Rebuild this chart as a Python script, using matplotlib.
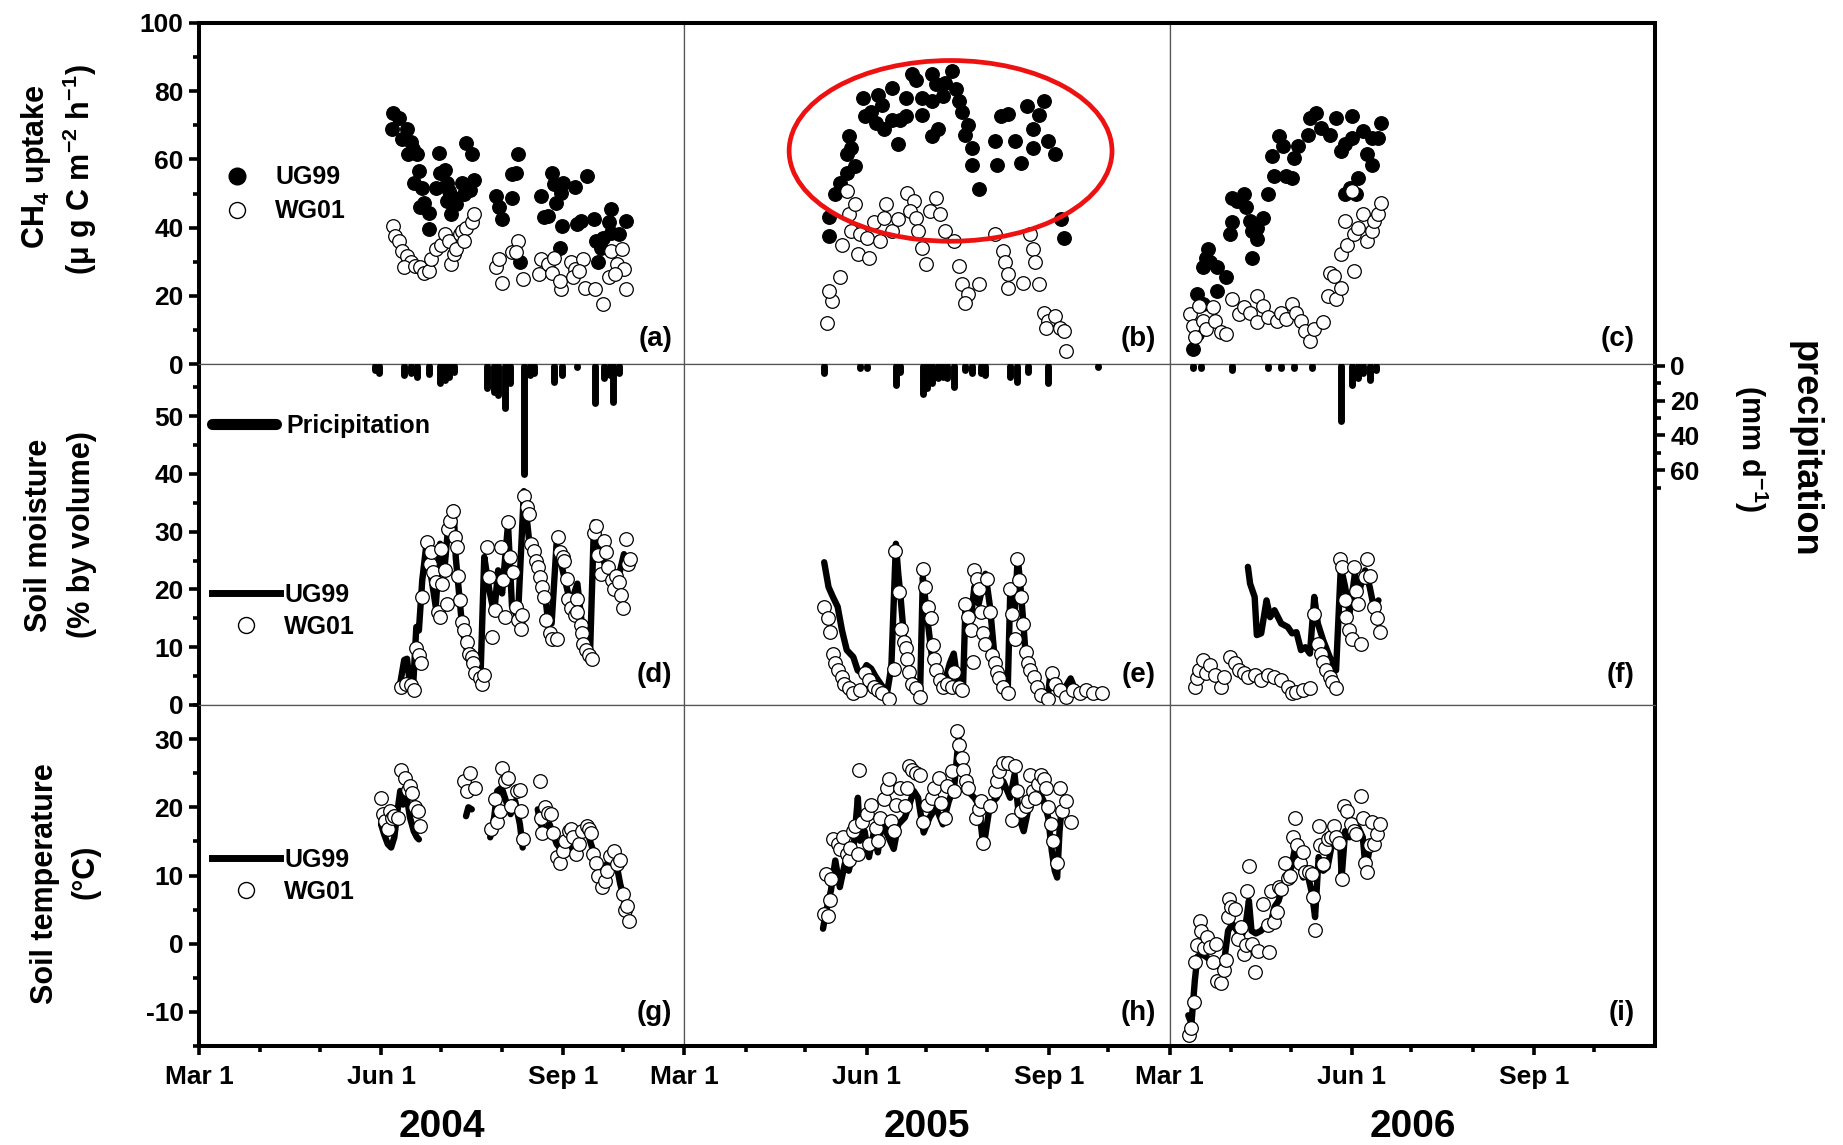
import numpy as np
import matplotlib.pyplot as plt
from matplotlib.lines import Line2D
from matplotlib.patches import Ellipse

plt.rcParams['font.family'] = ['Liberation Sans', 'DejaVu Sans']
plt.rcParams['font.weight'] = 'bold'
plt.rcParams['mathtext.fontset'] = 'custom'
plt.rcParams['mathtext.rm'] = 'Liberation Sans:bold'
plt.rcParams['mathtext.it'] = 'Liberation Sans:bold'
plt.rcParams['mathtext.bf'] = 'Liberation Sans:bold'
plt.rcParams['axes.unicode_minus'] = False

nan = float('nan')

# x values are days since Mar 1 of each year
years = ['2004', '2005', '2006']
tick_days = [0, 92, 184]
tick_labels = ['Mar 1', 'Jun 1', 'Sep 1']
minor_days = [31, 61, 122, 153, 214]
panel_tags = [['(a)', '(b)', '(c)'], ['(d)', '(e)', '(f)'], ['(g)', '(h)', '(i)']]

# ---- CH4 uptake (ug C m-2 h-1) ----
ch4_ug99_2004 = [(98, 73.7), (101, 72), (97.5, 68.8), (105, 68.8), (102.5, 66), (107, 65), (108, 63),
                 (105.5, 61.5), (110, 61.5), (121, 62), (111, 56.6), (108.6, 53), (112.6, 51.7), (121.7, 56),
                 (124, 57), (125, 53), (119.5, 51.7), (126, 50.7), (113.8, 47.3), (111.5, 45.9), (116, 44.4),
                 (116, 39.5), (125, 47.8), (128.5, 48.8), (129.6, 46.8), (127, 43.9), (135, 64.9), (138, 61.5),
                 (133, 53), (138.6, 54), (137, 51), (134, 49.8), (150, 49.3), (151.6, 45.9), (153, 42.4),
                 (158, 48.8), (158, 55.6), (161, 61.5), (160, 56), (162, 29.8), (172.6, 49.3), (174, 43),
                 (178, 56), (179, 52.7), (176, 43.4), (182.8, 50.2), (184, 53), (189.6, 52), (180, 47.3),
                 (183, 40.5), (182, 34), (196, 55), (191, 41), (193, 42), (199.4, 42.4), (200.6, 36),
                 (203, 34), (201.6, 29.8), (208, 45.4), (207, 41.5), (212, 38), (215.6, 42), (208, 38.5),
                 (204, 37)]
ch4_wg01_2004 = [(98, 40.5), (99, 37.6), (101, 36), (102.5, 33), (105, 31.7), (107, 30), (103.6, 28.3),
                 (109, 28.8), (111.5, 28.3), (113.8, 26.8), (116, 27.3), (117, 30.7), (119.5, 33.7), (122, 35),
                 (124, 38), (126, 36), (127, 29.3), (128.5, 32.2), (129.6, 33.7), (132, 38), (133, 39),
                 (135, 40), (137.6, 41.5), (138.6, 43.9), (134, 36), (150, 28.3), (151.6, 30.7), (153, 23.9),
                 (158, 32.7), (161, 36), (160, 32.7), (163.6, 24.9), (171.5, 26.3), (172.6, 30.7), (176, 29.3),
                 (179, 31.2), (178, 26.8), (182.8, 22), (182, 24.4), (187.8, 29.8), (189.6, 27.8), (189, 25.4),
                 (194, 30.7), (192, 27.3), (195, 22.4), (200, 22), (204, 17.6), (207, 25.4), (208, 33.2),
                 (211, 29.3), (213.5, 33.7), (214.6, 27.8), (215.6, 22), (210, 26.3)]
ch4_ug99_2005 = [(73, 37.6), (73, 43), (76, 49.8), (78.5, 53), (82, 56), (86.4, 58), (82, 61.5), (83, 66.8),
                 (84, 63.4), (90, 78), (91, 72.7), (94, 74), (96.6, 70.7), (97.7, 79), (100, 76), (101, 69),
                 (105, 81), (107.9, 64.4), (105, 71.7), (109, 71.7), (112, 72.7), (112, 78), (114.7, 85),
                 (117, 83.4), (120, 78), (120, 73), (125, 85), (127, 82), (125, 77), (125, 67), (128, 69),
                 (130.5, 78.5), (131.7, 82.4), (135, 85.9), (137, 80.5), (138.5, 77), (140, 74), (143, 70),
                 (141.9, 67.3), (145, 63.4), (145, 58.5), (148.6, 51.2), (156.6, 65.4), (157.9, 58.5),
                 (160, 72.7), (163.3, 73.2), (166.7, 65.4), (170, 59), (173, 75.6), (175.8, 68.8),
                 (175.8, 63.4), (181.4, 77), (179, 73), (183.7, 65.4), (187, 61.5), (190, 42.4), (191.6, 37)]
ch4_wg01_2005 = [(72, 11.9), (74.7, 18.5), (72.9, 21.5), (78.5, 25.4), (79.6, 35), (82, 50.7), (83, 43.9),
                 (86.4, 46.8), (84, 39), (88.7, 38), (87.6, 32.2), (93, 31.2), (92, 37), (95.5, 41.5), (99, 36),
                 (101, 42.9), (102, 46.8), (105, 39), (108, 42.4), (112.5, 50.2), (116, 47.8), (113.8, 44.9),
                 (117, 42.9), (118, 39), (120, 34), (122, 29.3), (124, 44.9), (127, 48.8), (129, 43.9),
                 (131.7, 39), (136, 36), (138.5, 28.8), (140, 23.4), (143, 20.5), (141.9, 18), (148.6, 23.4),
                 (156.6, 38), (161, 33.2), (162, 30), (163.3, 26.3), (163.3, 22.4), (171, 23.9), (174.6, 38),
                 (175.8, 33.7), (177, 29.8), (179, 23.4), (181.4, 15), (183.7, 12.7), (187, 14.1),
                 (189.4, 10.7), (191.6, 9.8), (192.8, 3.9), (182.6, 10.7)]
ch4_ug99_2006 = [(11.6, 4.4), (14, 8.8), (14, 20.5), (17, 17.6), (23.9, 21.5), (17, 28.3), (19.4, 33.7),
                 (18.3, 31.2), (20.5, 29.8), (23.9, 28.3), (28.3, 25.4), (30.6, 38), (31.7, 41.5), (31.7, 48.8),
                 (33.9, 47.8), (37.3, 49.8), (38.4, 45.9), (40.6, 42), (41.7, 39), (44, 36.6), (44, 40),
                 (41.7, 31.2), (47.3, 42.9), (49.6, 49.8), (52.9, 55), (51.8, 61), (55, 66.8), (57.4, 63.9),
                 (58.5, 55), (61.8, 54.6), (63, 60.5), (65, 63.9), (69.6, 67.3), (70.7, 72.2), (74, 73.7),
                 (76.3, 69.3), (81, 67.3), (84, 72.2), (86.4, 62.4), (88.6, 64.4), (91.9, 72.7), (91.9, 66.3),
                 (95, 54.6), (94, 49.8), (88.6, 49.8), (91, 51.7), (97.5, 68.3), (99.8, 61.5), (102, 66.3),
                 (105, 66.3), (106.5, 70.7), (102, 58.5)]
ch4_wg01_2006 = [(10.5, 14.6), (11.6, 11.2), (12.7, 7.8), (15, 17), (17, 12.7), (18.3, 10.2), (21.7, 16.6),
                 (22.8, 12.7), (26, 9.3), (28.3, 8.8), (31.7, 19), (35, 14.6), (37.3, 16.6), (40.6, 15.1),
                 (44, 20), (44, 12.2), (47.3, 17), (49.6, 13.7), (54, 12.7), (56.3, 15.1), (58.5, 13.2),
                 (61.8, 17.6), (64, 15.1), (66.3, 12.7), (68.5, 9.8), (70.7, 6.8), (73, 10.2), (77.5, 12.2),
                 (79.7, 20), (84, 19), (80.8, 26.8), (83, 25.9), (86.4, 22.4), (86.4, 32.2), (89.7, 35),
                 (93, 27.3), (93, 38), (88.6, 42), (95, 40), (97.5, 43.9), (99.8, 36), (102, 39), (103, 42),
                 (105, 43.9), (106.5, 47.3), (92, 50.7)]

# ---- precipitation (mm d-1) ----
rain_2004 = [(89, 2.5), (90.7, 4.4), (103.6, 5.4), (107, 4.4), (110, 6.3), (116, 4.8), (121.7, 10), (124, 8.2),
             (126, 6.3), (128.5, 3.4), (145.5, 13), (149, 15), (151, 16.9), (154.5, 24.5), (157, 10), (164, 62),
             (167, 5.4), (169, 4.4), (179.4, 9.2), (183, 5.4), (190.7, 0.6), (199.8, 21.6), (204.3, 7.3),
             (207.7, 5.4), (209, 20.7), (212, 4.4)]
rain_2005 = [(70.6, 4.4), (88.7, 1.5), (92, 1.5), (106.8, 11), (109, 3.4), (120.4, 16), (122.6, 13), (125, 10),
             (128.3, 7.3), (130.5, 6.3), (132.8, 7.3), (136, 12), (141.8, 2.5), (145, 4.4), (149.8, 4.4),
             (152, 5.4), (164.5, 6.3), (168, 9.2), (173.5, 3.4), (183.7, 10), (208.6, 0.6)]
rain_2006 = [(11.6, 1.5), (16, 1.5), (31.7, 2.5), (49.5, 1.5), (56.3, 1.5), (63, 1.5), (72, 1.5), (86.4, 32),
             (92, 11), (95.3, 7.3), (97.5, 4.4), (101, 8.2), (104, 2.5)]

# ---- soil moisture (% by volume) ----
sm_ug99_2004 = [(101.4, 3.4), (103.6, 7.8), (105, 8), (106.6, 3.2), (108, 2.6), (109.7, 13.5), (111, 12.9),
                (112.7, 21.6), (115, 28.4), (117, 22.7), (119.5, 17), (121.7, 27.9), (124, 23.9), (126, 31.6),
                (128.5, 34.2), (129.6, 25.6), (133, 12.9), (136.4, 7.8), (139.8, 5.5), (142, 3.7), (144, 25.6),
                (146.6, 19.8), (149, 15.8), (151, 23.3), (153, 19.3), (156, 31.3), (158, 17), (161, 15.2),
                (164, 37), (167, 27.3), (170, 25.6), (173.8, 21.6), (176, 15.2), (178, 14.1), (180.5, 27.9),
                (184, 22.7), (187.6, 17.5), (191, 21), (194, 11.8), (197.5, 10), (199.4, 31.6), (203, 26.1),
                (206.6, 22.7), (211, 21), (214.5, 26.1), (218, 23.9)]
sm_wg01_2004 = [(102, 3.2), (104.5, 3.7), (107, 3.4), (108.6, 2.6), (109.7, 9.8), (111, 8.6), (112, 7.2),
                (112.7, 18.7), (115, 28.2), (116.5, 24.4), (117, 26.4), (118, 23), (119.5, 21.3), (120.6, 16.1),
                (121.7, 15.2), (122.4, 27), (124, 23.3), (122.9, 21), (125, 17.5), (125.6, 30.5), (126.9, 31.9),
                (128, 33.6), (129, 29), (130, 27.3), (130.8, 22.4), (132, 18.1), (133, 14.4), (134, 12.9),
                (135.3, 10.9), (136.4, 8.9), (137.6, 8.3), (138.2, 7.2), (139.4, 5.5), (142, 4.6), (143, 3.7),
                (144, 5.2), (145.5, 27.3), (146.6, 22.1), (148, 11.8), (149.5, 16.4), (152.3, 27.3),
                (153.5, 21.6), (154.5, 15.2), (156, 31.6), (157, 25.6), (158.6, 23), (160, 17), (161, 14.7),
                (162.4, 13.2), (163, 15.5), (164, 36.2), (165.4, 34.2), (166.5, 33), (167.6, 27.9), (169, 26.7),
                (170, 25), (171, 23.9), (172, 22.1), (173.3, 20.4), (174.4, 18.7), (175, 14.7), (177, 12.4),
                (178.3, 11.5), (180.5, 11.5), (181, 29), (182, 26.4), (183.6, 25.6), (184.4, 25), (185.7, 21.8),
                (186.2, 18.4), (188, 16.7), (189.6, 15.5), (190.7, 18.4), (191, 16.1), (192.6, 13.8),
                (193.4, 12.4), (194, 10.6), (195.2, 9.5), (197, 8.6), (198.6, 8), (199.4, 29.7), (200.5, 31),
                (201.6, 25.9), (202.7, 22.7), (204.3, 28.4), (205.4, 26.4), (206.6, 23.9), (208.4, 21.6),
                (209.3, 20.1), (210.6, 22.4), (212, 21.3), (213, 19), (213.8, 16.7), (215.6, 28.7),
                (216.7, 24.4), (217.8, 25.3)]
sm_ug99_2005 = [(70.6, 24.7), (72.8, 20.4), (75, 18.7), (77.4, 17), (79.6, 12.9), (82, 9.5), (85.3, 8.3),
                (87.5, 6), (89.8, 5.5), (92, 6.9), (94.3, 6.3), (96.6, 4.9), (100, 3.2), (102.3, 2), (104.5, 6.6),
                (106.8, 27.9), (108, 22.7), (109, 19.3), (111, 11.2), (113.6, 6), (117, 3.2), (119, 2),
                (120.4, 22.1), (122.6, 15.2), (125, 8.3), (128.3, 5.5), (131.7, 4.3), (134, 7.2), (136, 8.9),
                (138.5, 2.6), (140.7, 3.2), (141.9, 17), (144, 12.9), (146.4, 20.4), (148.6, 17.5), (152, 22.7),
                (154.3, 17), (156.6, 8.3), (158.8, 4.3), (163.3, 3.2), (164.5, 19.3), (166.7, 15.2),
                (168.3, 25.6), (170, 19.3), (172.4, 8.3), (175.8, 4.3), (179, 2.6), (183.7, 2), (184.8, 5.5),
                (187, 3.2), (190.5, 2), (195, 4.6), (197, 2.9), (201.8, 2), (206, 1.7), (209.7, 1.4)]
sm_wg01_2005 = [(70.6, 17), (72.4, 15), (73.3, 12.6), (75, 8.9), (76.2, 7.2), (77.4, 6), (79.6, 4.9),
                (80.8, 3.7), (83, 2.9), (85.3, 2), (88.7, 2.6), (91, 5.5), (93.2, 4.3), (95.5, 3.2), (97.7, 2.6),
                (100, 2), (103.4, 1.1), (105.7, 6.3), (106.3, 26.7), (108.6, 19.5), (109.5, 13.2), (110.9, 10.9),
                (111.8, 9.8), (112.5, 8), (113.6, 5.7), (114.7, 3.7), (117, 2.9), (119, 1.4), (120.4, 23.6),
                (121.5, 20.4), (123, 17), (124.4, 15), (125.3, 10.3), (126, 8), (127, 6), (128.9, 4.3),
                (130.5, 3.2), (132.8, 3.7), (135, 3.2), (136, 5.7), (138.5, 3.2), (140.3, 2.6), (141.9, 17.5),
                (143.4, 15.2), (144.8, 12.9), (145.7, 7.5), (146.4, 23.3), (147.5, 21.8), (148.6, 20.1),
                (149.8, 16.1), (150.9, 12.4), (152, 10.6), (153, 21.8), (154.3, 16.1), (155.4, 8.6),
                (156.6, 7.2), (157.7, 5.7), (158.8, 4.6), (161, 3.2), (163.3, 2), (164.5, 20.1), (165.6, 15.8),
                (166.7, 11.5), (167.8, 25.3), (168.9, 21.6), (170, 18.7), (171, 14.1), (172.4, 9.2),
                (173.5, 7.2), (174.6, 6), (176.5, 4.9), (178, 3.2), (180.3, 1.7), (183.7, 1.1), (185.5, 5.5),
                (187, 3.7), (189.4, 2.6), (192.8, 1.4), (196.2, 2.6), (199.5, 2), (203, 2.6), (206.3, 2),
                (210.9, 2)]
sm_ug99_2006 = [(39.5, 23.9), (40.6, 21), (42.9, 18.7), (44, 12.1), (46.2, 12.4), (48.9, 18.1), (50.7, 15.2),
                (52.9, 16.4), (56.3, 14.1), (59.6, 13.5), (61.8, 12.4), (64, 12.6), (66.3, 9.5), (68.5, 10),
                (70.8, 8.9), (73, 18.7), (74.8, 14.1), (77.5, 11.2), (80.8, 8.3), (84, 6), (86.4, 23.9),
                (88.6, 20.4), (90.8, 15.8), (93.5, 22.7), (95.3, 19.3), (98.7, 23.3), (101, 20.4), (103, 17),
                (105.4, 18.1)]
sm_wg01_2006 = [(12.7, 3.2), (13.8, 4.6), (15, 6), (17, 7.8), (18.3, 5.5), (20.5, 6.9), (22.8, 5.2), (26, 3.2),
                (27.2, 4.9), (30.6, 8.3), (32.8, 7.2), (35, 6), (37.3, 5.5), (39.5, 4.9), (42.9, 5.2),
                (46.2, 4.3), (49.5, 5.2), (52.9, 4.9), (56.3, 4.3), (59.6, 3.2), (61.8, 2), (64, 2.3),
                (67.4, 2.6), (70.8, 2.9), (73, 15.8), (74.8, 10.6), (76.3, 8.9), (77.5, 7.5), (79, 6),
                (80.8, 4.9), (81.9, 4), (84, 2.9), (85.9, 25.3), (86.8, 23.9), (88.6, 18.1), (89, 15.2),
                (90.4, 12.9), (92, 11.5), (93, 23.9), (94.2, 19.8), (95.3, 17.5), (96.7, 10.6), (98.7, 22.1),
                (99.8, 25.3), (100.9, 22.4), (103, 17), (104.7, 15), (106, 12.6)]

# ---- soil temperature (deg C) ----
t_ug99_2004 = [(91.9, 17.5), (93.5, 16), (95.3, 14.6), (97, 14.1), (98.6, 15.6), (100.2, 19.5), (101.6, 22.4),
               (103, 20.4), (104.7, 21.9), (106.5, 18.5), (108.4, 16.5), (110, 15.6), (111, 15.3), (120, nan),
               (134.8, 18.7), (136, 20), (137.7, 19.7), (142, nan), (147, 15.6), (149, 18.5), (150.6, 22.4),
               (152.8, 22.9), (155, 20.9), (157.3, 19), (159.6, 20.9), (162, 17.5), (163.4, 14.1), (167, nan),
               (171, 19.7), (172.5, 17.5), (174.7, 16.5), (177, 17.5), (178.8, 16), (180.6, 14.6),
               (183.3, 13.6), (186.7, 14.6), (189, 12.7), (191, 13.6), (193.5, 16.5), (196.4, 16), (199, 13.6),
               (201.4, 10.2), (203.6, 9.7), (205.9, 11.7), (208, 10.7), (210.4, 12.2), (212.6, 8.8),
               (214.4, 6.8), (216, 4.4)]
t_wg01_2004 = [(91.9, 21.4), (93, 19), (94.1, 18), (95.3, 16.8), (96.4, 19.5), (97.5, 18.5), (98.6, 18.7),
               (100.5, 18.5), (102, 25.5), (103.8, 24.3), (105.4, 22.6), (106.5, 23.1), (107.7, 22.1),
               (109.2, 20), (110.6, 19.5), (111.5, 17.3), (133.6, 23.8), (135.4, 22.4), (137, 25.1),
               (139.3, 22.9), (147.2, 16.8), (149.4, 21.2), (150.6, 17.8), (151.7, 19.5), (152.8, 25.8),
               (154.4, 23.8), (156.2, 24.3), (157.3, 20.2), (160.7, 22.4), (161.9, 22.6), (162.5, 19.5),
               (163.4, 15.3), (172, 23.8), (172.7, 18.5), (173.1, 16.3), (174.7, 20), (176, 19.2), (177.7, 19),
               (178.8, 16.3), (180.6, 12.7), (182.2, 11.9), (183.7, 13.6), (185, 15.1), (186.7, 16.5),
               (187.8, 16.8), (189, 15.6), (190.5, 13.1), (191.9, 14.6), (193.5, 16.5), (195.7, 17.3),
               (196.8, 16.8), (198, 16.3), (199, 13.1), (200.2, 11.9), (201.4, 10), (203.2, 8.3), (204.7, 9.2),
               (205.9, 10.7), (207.7, 12.9), (209.3, 13.6), (210.9, 11.7), (212.6, 12.2), (213.8, 7.3),
               (214.9, 4.9), (216, 5.6), (217.2, 3.4)]
t_ug99_2005 = [(70, 2.2), (71.7, 4.9), (74, 7.8), (76.2, 12.2), (78.5, 8.3), (81, 11.7), (83, 10.7),
               (85.3, 13.6), (87.6, 21.4), (88.7, 15.1), (91, 16.5), (93.2, 12.7), (95.5, 16.1), (97.7, 13.4),
               (100, 18.5), (102.3, 16.1), (105.7, 13.9), (108, 17.5), (111.3, 18.5), (113.6, 20.4),
               (115.8, 22.4), (118, 21.4), (120.8, 16.3), (123.8, 18.5), (127, 20), (130.5, 17.5),
               (133.5, 20.9), (136.2, 22.9), (138.5, 30.2), (140.7, 25.8), (143, 22.4), (146.4, 21.4),
               (148.6, 20.4), (151, 14.1), (154.3, 20.4), (157.7, 21.4), (161, 23.8), (164.5, 21.4),
               (166.7, 24.8), (169, 18.5), (171.3, 16.5), (173.5, 19.5), (176.5, 21.4), (179, 22.4),
               (181.4, 20.9), (183.7, 18.5), (185.5, 13.6), (187, 10.7), (188.2, 9.7), (189.4, 16.5),
               (190.5, 20)]
t_wg01_2005 = [(70.6, 4.4), (72.4, 4.1), (73.3, 6.4), (71.7, 10.2), (74, 9.5), (75, 15.3), (77.4, 14.6),
               (78.5, 13.9), (80, 15.6), (81.9, 13.1), (83, 12.2), (83.7, 14.1), (85.3, 16.5), (86.4, 17.3),
               (87.6, 13.1), (88.2, 25.4), (89.8, 17.8), (92, 19), (93.2, 14.6), (94.3, 20.4), (96.6, 17),
               (97.7, 15.1), (98.9, 18.5), (101, 21.2), (102.3, 22.9), (103.4, 24.1), (104.5, 18), (105.7, 16.5),
               (106.8, 20.4), (109, 22.9), (111.3, 20.2), (112.5, 22.9), (113.6, 26), (114.7, 25.5), (117, 25.1),
               (119, 24.8), (120.4, 17.8), (122.6, 20.4), (125, 21.4), (126, 22.9), (128.5, 24.3), (129.6, 20.7),
               (131.7, 18.5), (132.8, 23.1), (135, 25.3), (136.2, 22.4), (137.5, 31.2), (138.9, 29.2),
               (140, 27.3), (140.7, 25.5), (142, 23.8), (143, 22.9), (147, 18.5), (148.6, 19.7), (149.8, 20.9),
               (151, 14.8), (154.3, 20.2), (156.6, 22.4), (157.7, 23.8), (158.8, 25.3), (161, 26.5),
               (163.3, 26.5), (165.6, 18.2), (166.7, 26), (167.8, 22.4), (170, 19.5), (172.4, 20.2),
               (173.5, 20.9), (174.6, 24.8), (175.8, 22.4), (176.9, 21.4), (178.7, 23.4), (180.3, 24.8),
               (181.4, 24.1), (182.6, 22.9), (183.7, 20), (185.3, 17.5), (186, 15.1), (188.2, 11.9),
               (189.4, 22.9), (190.5, 19.5), (192.8, 20.9), (195, 17.8)]
t_ug99_2006 = [(9.4, -10.5), (11, -11.7), (12.7, -5.4), (14, -1.9), (16, -1.5), (18.3, -1.9), (20.5, -2.4),
               (22.8, -2.9), (25, -3.4), (27.6, -2.4), (29.5, 1.9), (31.7, 2.9), (34, 1.9), (36.2, 1), (38.4, 2.9),
               (40, 6.3), (41.3, 1.9), (43.5, 1.5), (46.2, 1.9), (48.9, 2.9), (51, 2.9), (52.9, 5.4), (55, 6.3),
               (57.4, 8.8), (59, 9.7), (61.4, 11.2), (63, 13.6), (65, 12.2), (67.4, 9.7), (69.6, 10.2),
               (71.9, 7.3), (73.4, 3.9), (75.2, 12.7), (77.5, 10.7), (79.7, 11.2), (81.9, 14.6), (84, 14.6),
               (86, 15.6), (86.8, 9.7), (88.6, 16.5), (90.8, 15.6), (93, 17.5), (95.3, 17), (97.5, 15.6),
               (99, 10.7), (101, 14.1), (103, 15.1), (105.4, 15.6)]
t_wg01_2006 = [(10, -13.4), (11, -12.3), (12.3, -8.5), (12.7, -2.7), (14, -0.2), (15.4, 3.4), (16, 1.9),
               (17.2, -0.7), (19, 1), (20.5, -0.5), (21.7, -2.7), (23.4, 0), (23.9, -5.4), (25.7, -5.8),
               (27.2, -3.9), (28.3, -2.4), (29.5, 3.9), (30.1, 6.6), (31.2, 5.4), (32.8, 5.1), (34.6, 0.7),
               (36.2, 2.4), (37.3, -1.5), (38.4, -0.2), (39, 7.8), (39.9, 11.4), (41.7, 0), (43.3, -4.1),
               (44.4, -1), (47.3, 5.8), (49.5, 2.7), (50.2, -1.2), (51.1, 7.8), (52.5, 3.2), (54, 4.6), (55, 8.3),
               (56.3, 8), (58, 11.9), (59.6, 9.7), (60.7, 10), (62.3, 15.6), (63.2, 18.5), (64.5, 14.4),
               (65.8, 11.9), (67.4, 13.4), (68.5, 10.5), (70.3, 10.5), (71.9, 10.2), (72.5, 6.8), (73.4, 2),
               (75.2, 17.3), (75.9, 14.4), (77.5, 11.7), (78.6, 14.1), (79.7, 15.3), (81.5, 15.6), (83, 17.3),
               (84, 15.6), (85.3, 14.8), (87, 9.5), (88.2, 20.2), (89.7, 19.5), (91.3, 17.5), (93, 16.5),
               (94.2, 16.1), (96.4, 21.7), (97.5, 18.5), (98.7, 11.9), (99.8, 10.5), (101, 14.4), (102, 17.8),
               (103, 14.6), (104.7, 16.1), (106, 17.5)]

ch4_ug99 = [ch4_ug99_2004, ch4_ug99_2005, ch4_ug99_2006]
ch4_wg01 = [ch4_wg01_2004, ch4_wg01_2005, ch4_wg01_2006]
rain = [rain_2004, rain_2005, rain_2006]
sm_ug99 = [sm_ug99_2004, sm_ug99_2005, sm_ug99_2006]
sm_wg01 = [sm_wg01_2004, sm_wg01_2005, sm_wg01_2006]
t_ug99 = [t_ug99_2004, t_ug99_2005, t_ug99_2006]
t_wg01 = [t_wg01_2004, t_wg01_2005, t_wg01_2006]


def xy(pairs):
    a = np.array(pairs, dtype=float)
    return a[:, 0], a[:, 1]


W, H = 1843, 1145
fig = plt.figure(figsize=(W / 100, H / 100), dpi=100)
gs = fig.add_gridspec(3, 3, left=199 / W, right=1655 / W, top=1 - 23 / H, bottom=1 - 1046 / H,
                      wspace=0, hspace=0)
axes = [[fig.add_subplot(gs[r, c]) for c in range(3)] for r in range(3)]

# twin axes for precipitation in the middle row (inverted, mm d-1)
rain_axes = [axes[1][c].twinx() for c in range(3)]

ylims = [(0, 100), (0, 59), (-15, 35)]
ymajor = [np.arange(0, 101, 20), np.arange(0, 51, 10), np.arange(-10, 31, 10)]
yminor = [np.arange(10, 100, 20), np.arange(5, 56, 10), np.arange(-15, 36, 10)]
tag_y = [0.072, 0.089, 0.097]
tag_x = [0.975, 0.972, 0.958]

TICK = 19
OUTER = 2.9
dot = dict(ls='none', marker='o', ms=9.8, mec='k', mew=0.9)
LINE_W = 4.6

for r in range(3):
    for c in range(3):
        ax = axes[r][c]
        ax.set_xlim(0, 245)
        ax.set_ylim(*ylims[r])
        for side, sp in ax.spines.items():
            sp.set_linewidth(0.9)
            sp.set_color('#555555')
        if r == 0:
            ax.spines['top'].set_linewidth(OUTER)
            ax.spines['top'].set_color('k')
        if r == 2:
            ax.spines['bottom'].set_linewidth(OUTER)
            ax.spines['bottom'].set_color('k')
        if c == 0:
            ax.spines['left'].set_linewidth(OUTER)
            ax.spines['left'].set_color('k')
        if c == 2:
            ax.spines['right'].set_linewidth(OUTER)
            ax.spines['right'].set_color('k')

        ax.set_xticks(tick_days, tick_labels)
        ax.set_xticks(minor_days, minor=True)
        ax.tick_params(which='both', direction='out', width=2.6, labelsize=TICK, top=False, right=False)
        ax.tick_params(axis='x', which='major', length=6.5, pad=7)
        ax.tick_params(axis='x', which='minor', length=4)
        if r < 2:
            ax.tick_params(axis='x', which='both', bottom=False, labelbottom=False)
        if c == 0:
            ax.set_yticks(ymajor[r])
            ax.set_yticks(yminor[r], minor=True)
            ax.tick_params(axis='y', which='both', left=True, labelleft=True)
            ax.tick_params(axis='y', which='major', length=7, pad=4)
            ax.tick_params(axis='y', which='minor', length=4)
        else:
            ax.yaxis.set_visible(False)
        ax.text(tag_x[c], tag_y[r], panel_tags[r][c], transform=ax.transAxes, ha='right', va='center',
                fontsize=20, fontweight='bold')

for c in range(3):
    ax = axes[0][c]
    x, y = xy(ch4_ug99[c])
    ax.plot(x, y, color='k', mfc='k', **dot, zorder=3)
    x, y = xy(ch4_wg01[c])
    ax.plot(x, y, color='k', mfc='white', **dot, zorder=4)

    ax = axes[1][c]
    x, y = xy(sm_ug99[c])
    ax.plot(x, y, color='k', lw=LINE_W, solid_joinstyle='round', solid_capstyle='round', zorder=3)
    x, y = xy(sm_wg01[c])
    ax.plot(x, y, color='k', mfc='white', **dot, zorder=4)

    ax2 = rain_axes[c]
    ax2.set_ylim(195, -1)
    for sp in ax2.spines.values():
        sp.set_visible(False)
    ax2.xaxis.set_visible(False)
    x, y = xy(rain[c])
    bars = ax2.vlines(x, 0, y, colors='k', lw=5)
    bars.set_capstyle('round')
    if c == 2:
        ax2.set_yticks([0, 20, 40, 60])
        ax2.set_yticks([10, 30, 50, 70], minor=True)
        ax2.tick_params(axis='y', which='both', direction='out', width=2.6, labelsize=TICK, pad=4,
                        left=False, labelleft=False, right=True, labelright=True)
        ax2.tick_params(axis='y', which='major', length=7)
        ax2.tick_params(axis='y', which='minor', length=4)
    else:
        ax2.yaxis.set_visible(False)

    ax = axes[2][c]
    x, y = xy(t_ug99[c])
    ax.plot(x, y, color='k', lw=LINE_W, solid_joinstyle='round', solid_capstyle='round', zorder=3)
    x, y = xy(t_wg01[c])
    ax.plot(x, y, color='k', mfc='white', **dot, zorder=4)

# red ellipse highlighting 2005 uptake
axes[0][1].add_patch(Ellipse((134.4, 62.5), 163, 53, fill=False, ec='#ee1111', lw=3.4, zorder=6))

# legends
LEG = 18
h_ug = Line2D([], [], ls='none', marker='o', ms=12, mfc='k', mec='k')
h_wg = Line2D([], [], ls='none', marker='o', ms=11.5, mfc='white', mec='k', mew=1)
axes[0][0].legend([h_ug, h_wg], ['UG99', 'WG01'], loc='center left', frameon=False,
                  bbox_to_anchor=(224 / W, 1 - 194.5 / H), bbox_transform=fig.transFigure,
                  fontsize=LEG, handlelength=1.0, handletextpad=1.05, labelspacing=0.4,
                  borderpad=0, borderaxespad=0)

h_rain = Line2D([], [], color='k', lw=8, solid_capstyle='round')
h_line = Line2D([], [], color='k', lw=5)
leg_r = axes[1][0].legend([h_rain], ['Pricipitation'], loc='center left', frameon=False,
                          bbox_to_anchor=(212 / W, 1 - 426 / H), bbox_transform=fig.transFigure,
                          fontsize=LEG, handlelength=2.56, handletextpad=0.4, borderpad=0, borderaxespad=0)
axes[1][0].add_artist(leg_r)
axes[1][0].legend([h_line, h_wg], ['UG99', 'WG01'], loc='center left', frameon=False,
                  bbox_to_anchor=(212 / W, 1 - 611 / H), bbox_transform=fig.transFigure,
                  fontsize=LEG, handlelength=2.72, handletextpad=0.16, labelspacing=0.32,
                  borderpad=0, borderaxespad=0)
axes[2][0].legend([h_line, h_wg], ['UG99', 'WG01'], loc='center left', frameon=False,
                  bbox_to_anchor=(212 / W, 1 - 876 / H), bbox_transform=fig.transFigure,
                  fontsize=LEG, handlelength=2.72, handletextpad=0.16, labelspacing=0.32,
                  borderpad=0, borderaxespad=0)

# axis titles
LAB = 22


def ftext(px, py, s, size=LAB, rot=90):
    fig.text(px / W, 1 - py / H, s, rotation=rot, ha='center', va='center', fontsize=size, fontweight='bold')


ftext(36, 167, 'CH$_4$ uptake')
ftext(80, 170, '($\\mu$ g C m$^{-2}$ h$^{-1}$)')
ftext(39, 535, 'Soil moisture')
ftext(82, 535, '(% by volume)')
ftext(45, 884, 'Soil temperature')
ftext(85, 872, '(°C)')
ftext(1804, 449, 'precipitation', size=26, rot=-90)
ftext(1751, 449, '(mm d$^{-1}$)', size=22, rot=-90)

for c in range(3):
    bb = axes[2][c].get_position()
    fig.text((bb.x0 + bb.x1) / 2, 1 - 1127 / H, years[c], ha='center', va='center',
             fontsize=28, fontweight='bold')

fig.savefig('out.png', dpi=100)
